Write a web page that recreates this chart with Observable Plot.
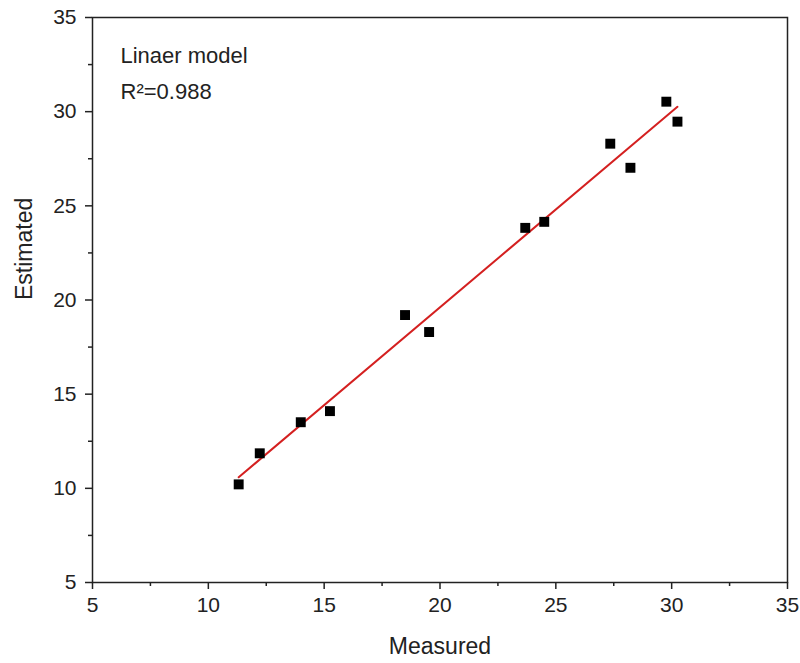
<!DOCTYPE html>
<html><head><meta charset="utf-8">
<script src="https://cdn.jsdelivr.net/npm/d3@7"></script>
<script src="https://cdn.jsdelivr.net/npm/@observablehq/plot@0.6"></script>
<style>body{margin:0;background:#fff;font-family:"Liberation Sans",Arial,sans-serif}</style>
</head><body><div id="chart"></div>
<script>
const measured  = [11.31, 12.22, 13.99, 15.25, 18.49, 19.53, 23.68, 24.50, 27.35, 28.22, 29.77, 30.25];
const estimated = [10.21, 11.86, 13.51, 14.10, 19.20, 18.30, 23.83, 24.15, 28.30, 27.02, 30.53, 29.47];
const majorTicks = [5, 10, 15, 20, 25, 30, 35];
const minorTicks = [7.5, 12.5, 17.5, 22.5, 27.5, 32.5];
const annotations = ["Linaer model", "R²=0.988"];
const xLabel = "Measured", yLabel = "Estimated";

const data = measured.map((m, i) => ({m, e: estimated[i]}));

const plot = Plot.plot({
  width: 800, height: 663,
  marginLeft: 92, marginRight: 13, marginTop: 17, marginBottom: 81,
  style: {fontFamily: "Liberation Sans, Arial, sans-serif", fontSize: "21px", color: "#222"},
  x: {domain: [5, 35]},
  y: {domain: [5, 35]},
  marks: [
    Plot.frame({stroke: "#222", strokeWidth: 1.5}),
    Plot.axisX({ticks: majorTicks, tickSize: 7, tickPadding: 8, strokeWidth: 1.5, label: null, fontSize: 21}),
    Plot.axisX({ticks: minorTicks, tickSize: 4, text: null, strokeWidth: 1.5, label: null}),
    Plot.axisY({ticks: majorTicks, tickSize: 7, tickPadding: 9, strokeWidth: 1.5, label: null, fontSize: 21}),
    Plot.axisY({ticks: minorTicks, tickSize: 4, text: null, strokeWidth: 1.5, label: null}),
    Plot.text([xLabel], {frameAnchor: "bottom", dy: 71, fontSize: 23, fill: "#222"}),
    Plot.text([yLabel], {frameAnchor: "left", dx: -68, rotate: -90, fontSize: 23, fill: "#222"}),
    Plot.linearRegressionY(data, {x: "m", y: "e", stroke: "#d42020", strokeWidth: 2, ci: 0}),
    Plot.dot(data, {x: "m", y: "e", symbol: "square", r: 5.6, fill: "#000", stroke: "none"}),
    Plot.text([annotations[0]], {frameAnchor: "top-left", dx: 28, dy: 38, lineAnchor: "middle", textAnchor: "start", fontSize: 22, fill: "#222"}),
    Plot.text([annotations[1]], {frameAnchor: "top-left", dx: 28, dy: 74, lineAnchor: "middle", textAnchor: "start", fontSize: 22, fill: "#222"})
  ]
});
document.getElementById("chart").appendChild(plot);
</script></body></html>
